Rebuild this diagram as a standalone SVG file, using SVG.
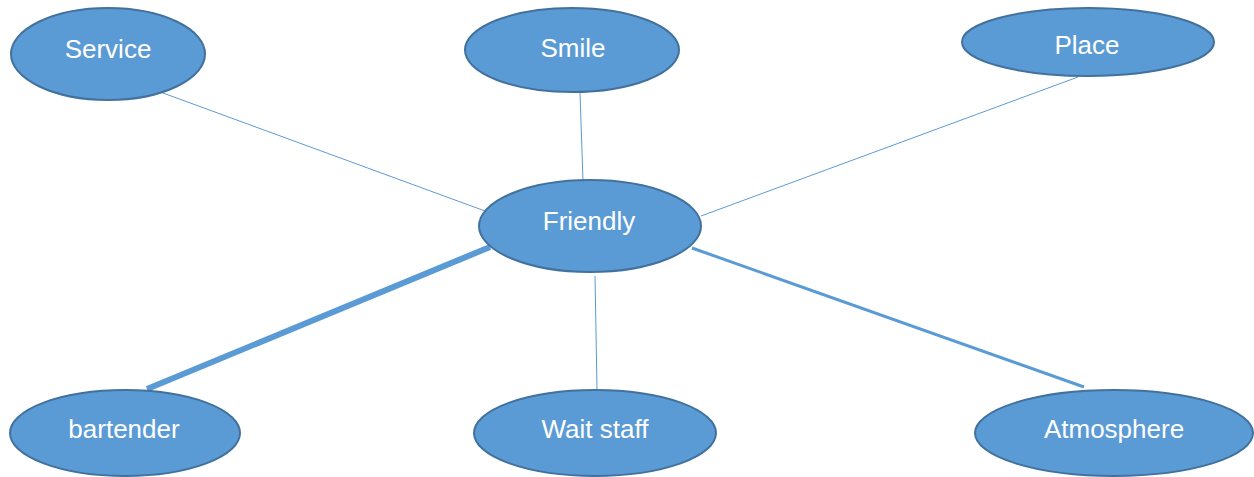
<svg xmlns="http://www.w3.org/2000/svg" width="1254" height="477" viewBox="0 0 1254 477">
<style>
.n{fill:#5B9BD5;stroke:#41719C;stroke-width:2}
.t{fill:#fff;font-family:"Liberation Sans",Arial,sans-serif;font-size:26px;text-anchor:middle}
.c{stroke:#5B9BD5;fill:none}
</style>
<rect width="1254" height="477" fill="#fff"/>
<g id="connectors">
<line class="c" x1="163" y1="93" x2="485" y2="211" stroke-width="1"/>
<line class="c" x1="580" y1="93" x2="583" y2="181" stroke-width="1"/>
<line class="c" x1="1078" y1="77" x2="701" y2="216" stroke-width="1"/>
<line class="c" x1="490" y1="247" x2="147" y2="389" stroke-width="6"/>
<line class="c" x1="595" y1="276" x2="597" y2="389" stroke-width="1"/>
<line class="c" x1="692" y1="248" x2="1084" y2="387" stroke-width="3"/>
</g>
<g id="service"><ellipse class="n" cx="108" cy="54" rx="97" ry="46"/><text class="t" x="108" y="58">Service</text></g>
<g id="smile"><ellipse class="n" cx="572" cy="50" rx="107" ry="42"/><text class="t" x="573" y="57">Smile</text></g>
<g id="place"><ellipse class="n" cx="1088" cy="42" rx="126" ry="34"/><text class="t" x="1087" y="54">Place</text></g>
<g id="friendly"><ellipse class="n" cx="590" cy="226" rx="111" ry="46"/><text class="t" x="589" y="230">Friendly</text></g>
<g id="bartender"><ellipse class="n" cx="125" cy="433" rx="115" ry="43"/><text class="t" x="124" y="438">bartender</text></g>
<g id="waitstaff"><ellipse class="n" cx="595" cy="433" rx="121" ry="43"/><text class="t" x="595" y="438">Wait staff</text></g>
<g id="atmosphere"><ellipse class="n" cx="1114" cy="433" rx="139" ry="43"/><text class="t" x="1114" y="438">Atmosphere</text></g>
</svg>
